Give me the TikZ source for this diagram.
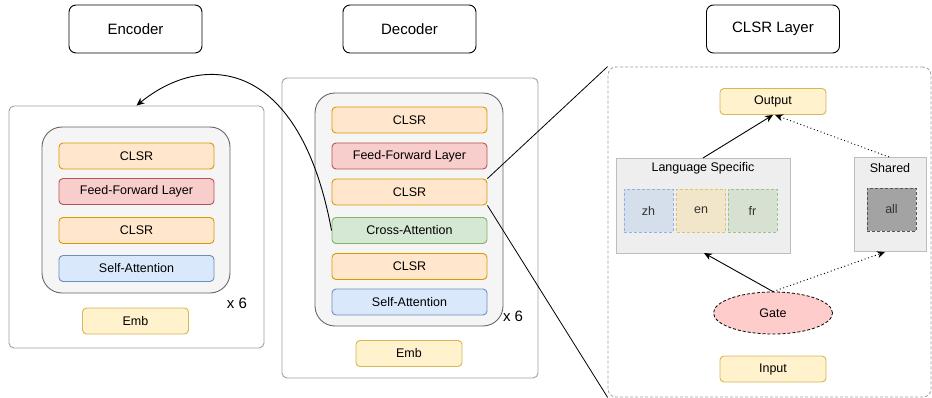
\documentclass[tikz,border=0pt]{standalone}
\usepackage{fontspec}
\setmainfont{Liberation Sans}
\usetikzlibrary{arrows.meta,shapes.geometric}

\definecolor{clsrfill}{HTML}{FFE6CC}\definecolor{clsrline}{HTML}{D79B00}
\definecolor{ffnfill}{HTML}{F8CECC}\definecolor{ffnline}{HTML}{B85450}
\definecolor{safill}{HTML}{DAE8FC}\definecolor{saline}{HTML}{6C8EBF}
\definecolor{cafill}{HTML}{D5E8D4}\definecolor{caline}{HTML}{82B366}
\definecolor{embfill}{HTML}{FFF2CC}\definecolor{embline}{HTML}{D6B656}
\definecolor{innerfill}{HTML}{F5F5F5}\definecolor{innerline}{HTML}{666666}
\definecolor{outerline}{HTML}{A0A0A0}
\definecolor{grpfill}{HTML}{EEEEEE}\definecolor{grpline}{HTML}{BDBDBD}
\definecolor{zhfill}{HTML}{D5DEEB}\definecolor{zhline}{HTML}{94B0DC}
\definecolor{enfill}{HTML}{F1E6C9}\definecolor{enline}{HTML}{DCC274}
\definecolor{frfill}{HTML}{D6E1D2}\definecolor{frline}{HTML}{9DC490}
\definecolor{allfill}{HTML}{A3A3A3}\definecolor{allline}{HTML}{555555}
\definecolor{gatefill}{HTML}{FFCCCC}
\definecolor{softtext}{HTML}{333333}

\tikzset{
  lbl/.style={font=\fontsize{12.5}{15}\selectfont},
  layerbox/.style={lbl, draw, rounded corners=4pt, minimum width=155pt,
    minimum height=26pt, inner sep=0pt, line width=0.9pt},
  clsr/.style={layerbox, fill=clsrfill, draw=clsrline},
  ffn/.style={layerbox, fill=ffnfill, draw=ffnline},
  selfatt/.style={layerbox, fill=safill, draw=saline},
  crossatt/.style={layerbox, fill=cafill, draw=caline},
  embbox/.style={layerbox, fill=embfill, draw=embline, minimum width=106pt},
  titlebox/.style={draw=black, rounded corners=7pt, minimum width=133pt,
    minimum height=48pt, inner sep=0pt, line width=0.9pt,
    font=\fontsize{15}{18}\selectfont},
  outerbox/.style={draw=outerline, fill=white, rounded corners=5pt,
    inner sep=0pt, line width=0.9pt},
  innerbox/.style={draw=innerline, fill=innerfill, rounded corners=20pt,
    inner sep=0pt, line width=0.9pt},
  grpbox/.style={draw=grpline, fill=grpfill, inner sep=0pt, line width=0.9pt},
  langbox/.style={lbl, text=softtext, dashed, dash pattern=on 3pt off 2pt,
    minimum width=49pt, minimum height=43pt, inner sep=0pt, line width=0.8pt},
  repeatlbl/.style={font=\fontsize{15}{18}\selectfont},
  arr/.style={-{Stealth[length=8pt,width=7pt]}, line width=0.9pt},
  dotarr/.style={arr, dash pattern=on 1pt off 2.6pt},
}

\begin{document}
\begin{tikzpicture}[x=1pt, y=-1pt]
\useasboundingbox (0,0) rectangle (932,398);

% ---------- titles ----------
\node[titlebox] (tenc) at (135.5,29) {Encoder};
\node[titlebox] (tdec) at (409.5,29) {Decoder};
\node[titlebox] (tclsr) at (773,29) {CLSR Layer};

% ---------- encoder ----------
\node[outerbox, minimum width=255pt, minimum height=242pt] (encout) at (136.5,227) {};
\node[innerbox, minimum width=188pt, minimum height=166pt] (encin) at (136,210) {};
\node[clsr] (eclsra) at (136.5,156) {CLSR};
\node[ffn] (effn) at (136.5,191.5) {Feed-Forward Layer};
\node[clsr] (eclsrb) at (136.5,230.5) {CLSR};
\node[selfatt] (esa) at (136.5,268.5) {Self-Attention};
\node[embbox] (eemb) at (135.5,321) {Emb};
\node[repeatlbl] (erep) at (237,303) {x 6};

% ---------- decoder ----------
\node[outerbox, minimum width=256pt, minimum height=300pt] (decout) at (410,228) {};
\node[innerbox, minimum width=188pt, minimum height=233pt] (decin) at (409,209.5) {};
\node[clsr] (dclsra) at (409.5,120) {CLSR};
\node[ffn] (dffn) at (409.5,156) {Feed-Forward Layer};
\node[clsr] (dclsrb) at (409.5,192) {CLSR};
\node[crossatt] (dca) at (409.5,230.5) {Cross-Attention};
\node[clsr] (dclsrc) at (409.5,266.5) {CLSR};
\node[selfatt] (dsa) at (409.5,302) {Self-Attention};
\node[embbox] (demb) at (409,353.5) {Emb};
\node[repeatlbl] (drep) at (513,316) {x 6};

% cross-attention reads from the encoder
\draw[arr] (dca.west) .. controls (300,60) and (205,50) .. (encout.north);

% ---------- CLSR layer detail ----------
\node[draw=outerline, dash pattern=on 3pt off 2pt, rounded corners=8pt,
  line width=0.8pt, minimum width=323pt, minimum height=330pt, inner sep=0pt]
  (clsrbox) at (769.5,232) {};
\draw[line width=0.8pt] (dclsrb.north east) -- (clsrbox.north west);
\draw[line width=0.8pt] (dclsrb.south east) -- (clsrbox.south west);

\node[embbox] (out) at (773,101.5) {Output};
\node[embbox] (inp) at (773,369) {Input};

\node[grpbox, minimum width=174pt, minimum height=95pt] (spec) at (703,205.5) {};
\node[lbl] (spect) at (703,168) {Language Specific};
\node[langbox, fill=zhfill, draw=zhline] (zh) at (648.5,210.5) {zh};
\node[langbox, fill=enfill, draw=enline] (en) at (701,210.5) {en};
\node[langbox, fill=frfill, draw=frline] (fr) at (752.5,210.5) {fr};

\node[grpbox, minimum width=72pt, minimum height=94pt] (shared) at (890,204) {};
\node[lbl] (sharedt) at (890,168) {Shared};
\node[langbox, fill=allfill, draw=allline] (all) at (891.5,209.5) {all};

\node[ellipse, draw=black, fill=gatefill, dash pattern=on 3pt off 2pt,
  line width=0.8pt, minimum width=119pt, minimum height=42pt, inner sep=0pt, lbl]
  (gate) at (773,313) {Gate};

\coordinate (specN) at (703,158);
\coordinate (specS) at (704,253);
\coordinate (sharedN) at (889,157);
\coordinate (sharedS) at (885,252);

\draw[arr] (gate.north) -- (specS);
\draw[dotarr] (gate.north) -- (sharedS);
\draw[arr] (specN) -- (out.south);
\draw[dotarr] (sharedN) -- ([xshift=2pt]out.south);
\end{tikzpicture}
\end{document}
